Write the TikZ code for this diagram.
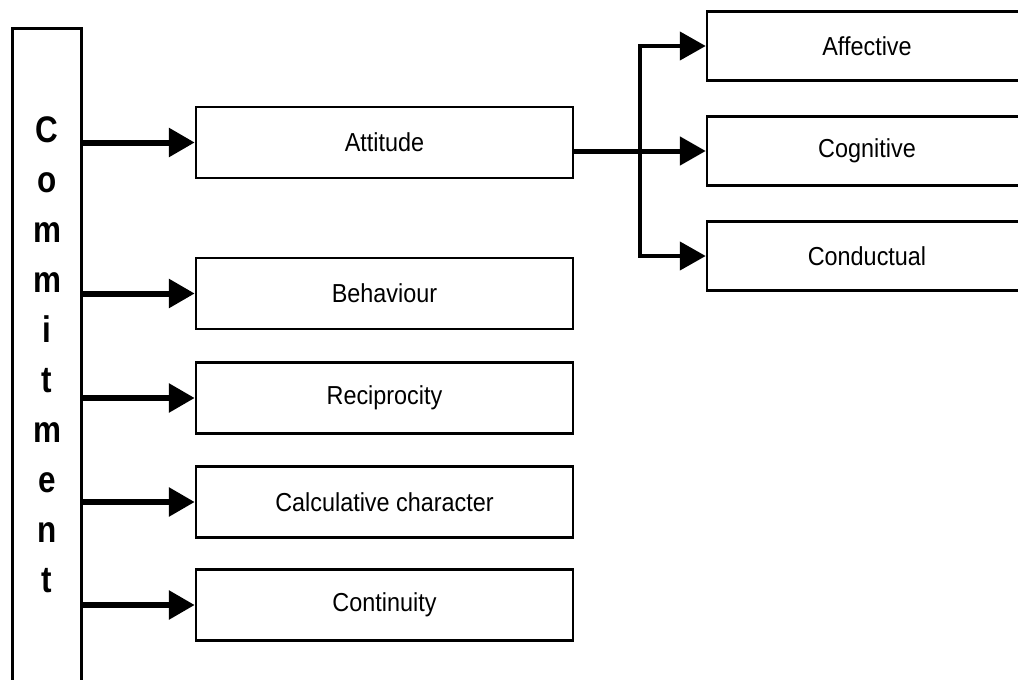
\documentclass[tikz,border=0pt]{standalone}
\usepackage{fontspec}
\setmainfont{Liberation Sans}[FakeStretch=0.9]
\newfontfamily\condbold{Liberation Sans Bold}[FakeStretch=0.85]
\usetikzlibrary{arrows.meta}
\tikzset{
  box/.style={draw,line width=2.5pt,rectangle,inner sep=0pt,minimum width=377pt,minimum height=71pt,font=\fontsize{26}{30}\selectfont},
  rbox/.style={box,minimum width=320pt,minimum height=69pt},
  mainarrow/.style={line width=6pt,-{Triangle[length=26pt,width=28pt]}},
  brancharrow/.style={line width=4.5pt,line join=miter,{Triangle[length=26pt,width=28pt]}-{Triangle[length=26pt,width=28pt]}},
}
\begin{document}
\begin{tikzpicture}[x=1pt,y=-1pt]
\useasboundingbox (0,0) rectangle (1018,680);
% Commitment column
\node[draw,line width=3pt,rectangle,inner sep=0pt,minimum width=69pt,minimum height=672pt] (commit) at (46.5,364) {};
\node[inner sep=0pt,align=center,font=\condbold\fontsize{37}{50}\selectfont] (ctext) at (47,355) {C\\o\\m\\m\\i\\t\\m\\e\\n\\t};
% left boxes
\node[box] (att) at (384.5,142.5) {Attitude};
\node[box] (beh) at (384.5,293.5) {Behaviour};
\node[box] (rec) at (384.5,398) {Reciprocity};
\node[box] (cal) at (384.5,502) {Calculative character};
\node[box] (con) at (384.5,605) {Continuity};
% right boxes
\node[rbox] (aff) at (867,46) {Affective};
\node[rbox] (cog) at (867,151) {Cognitive};
\node[rbox] (cnd) at (867,256) {Conductual};
% arrows from commitment
\foreach \n in {att,beh,rec,cal,con}{
  \draw[mainarrow] (commit.east |- \n.west) -- (\n.west);
}
% attitude to components
\coordinate (j) at (640,151);
\draw[mainarrow,line width=5pt] (att.east |- cog.west) -- (cog.west);
\draw[brancharrow] (aff.west) -- (j |- aff.west) -- (j |- cnd.west) -- (cnd.west);
\end{tikzpicture}
\end{document}
